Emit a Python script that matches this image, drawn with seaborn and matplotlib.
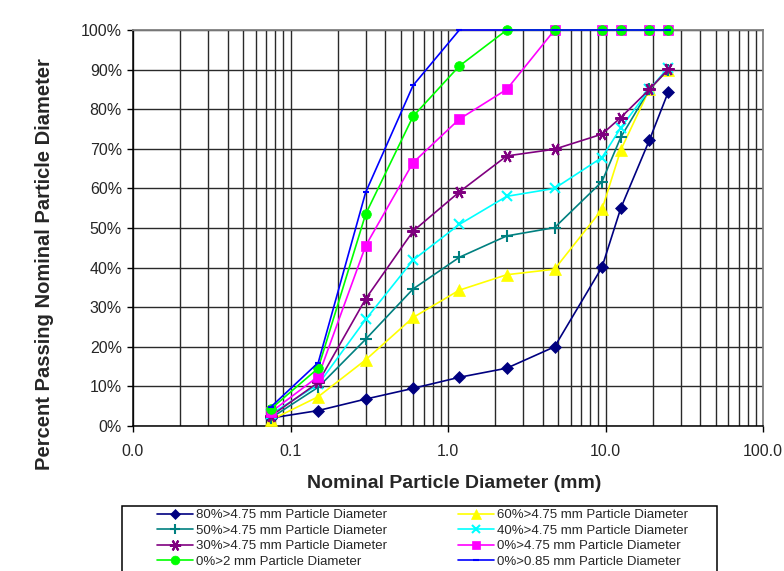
import numpy as np
import pandas as pd
import matplotlib
matplotlib.use('Agg')
import matplotlib.pyplot as plt
import seaborn as sns
from matplotlib.patches import Rectangle
from matplotlib.ticker import FixedLocator, LogLocator, NullFormatter, FuncFormatter, MultipleLocator

# sieve sizes (mm)
sizes = [0.075, 0.15, 0.3, 0.6, 1.18, 2.36, 4.75, 9.5, 12.5, 19, 25]

# percent passing for each gradation
p80 = [2.0, 3.9, 6.8, 9.5, 12.3, 14.6, 20.0, 40.1, 55.0, 72.2, 84.3]
p60 = [1.5, 7.4, 16.7, 27.4, 34.3, 38.2, 39.6, 54.7, 69.7, 85.0, 90.0]
p50 = [2.0, 9.8, 21.9, 34.6, 42.6, 48.0, 50.1, 61.7, 72.9, 85.0, 90.0]
p40 = [3.0, 10.5, 26.9, 41.9, 50.9, 58.0, 60.0, 67.8, 75.3, 85.0, 90.5]
p30 = [2.5, 11.0, 32.1, 49.2, 59.1, 68.2, 69.9, 73.7, 77.9, 85.0, 90.1]
p0_475 = [3.5, 12.5, 45.5, 66.5, 77.5, 85.0, 100, 100, 100, 100, 100]
p0_2 = [4.3, 14.6, 53.5, 78.2, 90.9, 100, 100, 100, 100, 100, 100]
p0_085 = [4.8, 16.0, 59.0, 86.0, 100, 100, 100, 100, 100, 100, 100]

labels = ['80%>4.75 mm Particle Diameter', '60%>4.75 mm Particle Diameter',
          '50%>4.75 mm Particle Diameter', '40%>4.75 mm Particle Diameter',
          '30%>4.75 mm Particle Diameter', '0%>4.75 mm Particle Diameter',
          '0%>2 mm Particle Diameter', '0%>0.85 mm Particle Diameter']
series = [p80, p60, p50, p40, p30, p0_475, p0_2, p0_085]
colors = ['#000080', '#FFFF00', '#008080', '#00FFFF',
          '#800080', '#FF00FF', '#00FF00', '#0000FF']
markers = ['D', '^', '+', 'x', (6, 2, 90), 's', 'o', '_']
msizes = [6, 8, 8, 7, 9, 6.5, 7, 5]

sns.set_style('white')
plt.rcParams['font.family'] = ['Liberation Sans', 'DejaVu Sans']

fig = plt.figure(figsize=(7.84, 5.71), dpi=100)
ax = fig.add_axes([133 / 784, 1 - 426 / 571, (763 - 133) / 784, (426 - 30) / 571])

for lab, vals, c, m, ms in zip(labels, series, colors, markers, msizes):
    df = pd.DataFrame({'size': sizes, 'pct': vals})
    thin = m in ('+', 'x', '_') or isinstance(m, tuple)
    sns.lineplot(data=df, x='size', y='pct', ax=ax, color=c, marker=m,
                 markersize=ms, markeredgecolor=c, markerfacecolor=c,
                 markeredgewidth=1.5 if thin else 0.5,
                 linewidth=1.2, label=lab, sort=False, clip_on=False, zorder=3)

ax.set_xscale('log')
ax.set_xlim(0.01, 100)
ax.set_ylim(0, 100)

ax.xaxis.set_major_locator(FixedLocator([0.01, 0.1, 1, 10, 100]))
ax.xaxis.set_major_formatter(FuncFormatter(lambda v, p: '%.1f' % v))
ax.xaxis.set_minor_locator(LogLocator(base=10, subs=np.arange(2, 10)))
ax.xaxis.set_minor_formatter(NullFormatter())
ax.yaxis.set_major_locator(MultipleLocator(10))
ax.yaxis.set_major_formatter(FuncFormatter(lambda v, p: '%d%%' % v))

ax.grid(True, which='major', axis='both', color='#2a2a2a', linewidth=1.0)
ax.grid(True, which='minor', axis='x', color='#2a2a2a', linewidth=1.0)
ax.set_axisbelow(True)

for s in ['top', 'right']:
    ax.spines[s].set_color('#808080')
    ax.spines[s].set_linewidth(1.3)
for s in ['left', 'bottom']:
    ax.spines[s].set_color('black')
    ax.spines[s].set_linewidth(1.1)

ax.tick_params(axis='both', which='major', direction='out', length=4, width=1,
               color='black', labelsize=11.5, bottom=True, left=True)
ax.tick_params(axis='x', which='minor', bottom=False)
ax.tick_params(axis='x', pad=9)
ax.tick_params(axis='y', pad=4)

ax.set_xlabel('')
ax.set_ylabel('')
fig.text(454 / 784, 1 - 483 / 571, 'Nominal Particle Diameter (mm)', fontsize=14,
         fontweight='bold', ha='center', va='center')
fig.text(45 / 784, 1 - 264 / 571, 'Percent Passing Nominal Particle Diameter', fontsize=14.5,
         fontweight='bold', ha='center', va='center', rotation=90)

# legend box
fig.patches.append(Rectangle((122 / 784, -0.02), (717 - 122) / 784, (571 - 506) / 571 + 0.02,
                             transform=fig.transFigure, facecolor='white',
                             edgecolor='black', linewidth=1.1, zorder=0))

h, l = ax.get_legend_handles_labels()
ax.get_legend().remove()
order = [0, 2, 4, 6, 1, 3, 5, 7]
leg = fig.legend([h[i] for i in order], [l[i] for i in order], ncol=2,
                 loc='upper left', bbox_to_anchor=(157 / 784, 1 - 509 / 571),
                 fontsize=9.5, frameon=False, borderpad=0, borderaxespad=0,
                 handlelength=2.7, handletextpad=0.25, columnspacing=5.4,
                 labelspacing=0.25, markerscale=0.9)

fig.savefig('out.png', dpi=100)
